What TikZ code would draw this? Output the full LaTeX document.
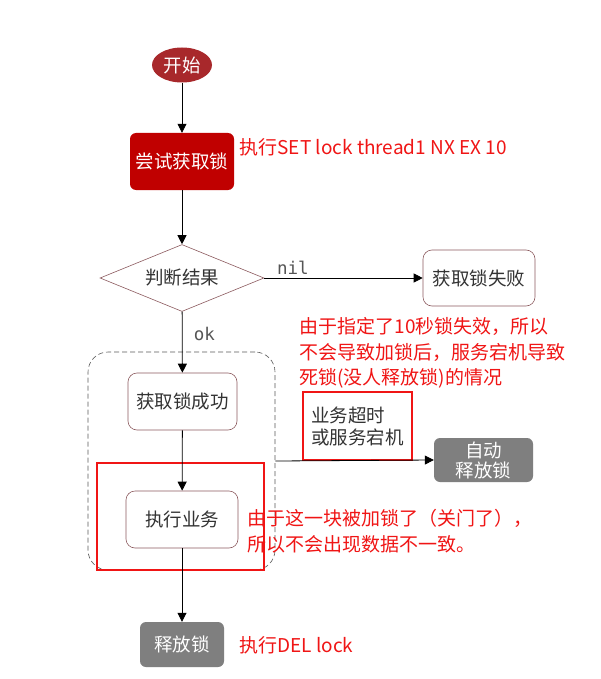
\documentclass[tikz,border=0pt]{standalone}
\usepackage{fontspec}
\setmainfont{Noto Sans CJK SC}
\newfontfamily\codefont{DejaVu Sans Mono}
\usepackage{tikz}
\usetikzlibrary{arrows.meta,positioning,shapes.geometric}
\definecolor{startred}{HTML}{A8282B}
\definecolor{tryred}{HTML}{C00000}
\definecolor{boxline}{HTML}{8C5A5E}
\definecolor{boxtext}{HTML}{333333}
\definecolor{releasegray}{HTML}{7F7F7F}
\definecolor{notered}{HTML}{F01515}
\definecolor{labelgray}{HTML}{555555}
\newcommand{\bodysize}{\fontsize{18.5}{22}\selectfont}
\newcommand{\notesize}{\fontsize{19}{25.5}\selectfont}
\tikzset{
  startnode/.style={
    ellipse,
    fill=startred,
    text=white,
    font=\bodysize,
    inner sep=0pt,
    minimum width=60pt,
    minimum height=35pt
  },
  trybox/.style={
    rounded corners=6pt,
    fill=tryred,
    text=white,
    font=\bodysize,
    minimum width=104pt,
    minimum height=57pt
  },
  stepbox/.style={
    rounded corners=9pt,
    draw=boxline,
    line width=0.6pt,
    fill=white,
    text=boxtext,
    font=\bodysize,
    minimum width=110pt,
    minimum height=57pt
  },
  decision/.style={
    diamond,
    draw=boxline,
    line width=0.6pt,
    fill=white,
    text=boxtext,
    font=\bodysize,
    inner sep=0pt,
    shape aspect=2.45,
    minimum width=164pt,
    minimum height=67pt
  },
  graybox/.style={
    rounded corners=6pt,
    fill=releasegray,
    text=white,
    font=\fontsize{18.5}{20}\selectfont,
    align=center
  },
  lockgroup/.style={draw=black!65, dash pattern=on 5pt off 3pt, line width=0.6pt, rounded corners=20pt},
  redframe/.style={draw=notered, line width=1.6pt},
  flow/.style={line width=0.8pt, -{Triangle[length=9pt,width=9pt]}},
  codelabel/.style={font=\codefont\fontsize{17.5}{20}\selectfont, text=labelgray},
  note/.style={font=\notesize, text=notered, align=left}
}

\begin{document}
\begin{tikzpicture}[x=1pt,y=-1pt]
\path[use as bounding box, fill=white] (0,0) rectangle (601,679);

% main flow
\node[startnode] (start) at (182,65) {开始};
\node[trybox] (try) at (182,161.5) {尝试获取锁};
\node[decision] (judge) at (182,278) {判断结果};
\node[stepbox, minimum width=112pt, minimum height=56pt] (fail) at (479,278) {获取锁失败};
\node[lockgroup, minimum width=187pt, minimum height=218pt] (locked) at (181.5,461) {};
\node[stepbox, minimum width=109pt] (success) at (182.5,401.5) {获取锁成功};
\node[stepbox, minimum width=112pt] (work) at (182,519.5) {执行业务};
\node[graybox, minimum width=84pt, minimum height=45pt] (release) at (182,644.5) {释放锁};
\node[graybox, minimum width=99pt, minimum height=44pt] (auto) at (483.5,460) {自动\\释放锁};

% red remarks
\draw[redframe] (97,463) rectangle (264,570);
\node[redframe, minimum width=109pt, minimum height=68pt, text=boxtext, font=\bodysize, align=left] (cause) at (357.5,426) {业务超时\\或服务宕机};
\node[note, anchor=west] (setnote) at (236,147) {执行SET lock thread1 NX EX 10};
\node[note, anchor=north west] (expirenote) at (296,314) {由于指定了10秒锁失效，所以\\不会导致加锁后，服务宕机导致\\死锁(没人释放锁)的情况};
\node[note, anchor=north west] (worknote) at (244,506) {由于这一块被加锁了（关门了），\\所以不会出现数据不一致。};
\node[note, anchor=west] (delnote) at (236,645) {执行DEL lock};

% arrows
\draw[flow] (start) -- (try);
\draw[flow] (try) -- (judge);
\draw[flow] (judge) -- node[codelabel, above, pos=0.18] {nil} (fail);
\draw[flow] (judge) -- node[codelabel, right, pos=0.36, xshift=8pt] {ok} (success);
\draw[flow] (success) -- (work);
\draw[flow] (work) -- (release);
\draw[flow] (locked.east) -- (auto.west);

\end{tikzpicture}
\end{document}
